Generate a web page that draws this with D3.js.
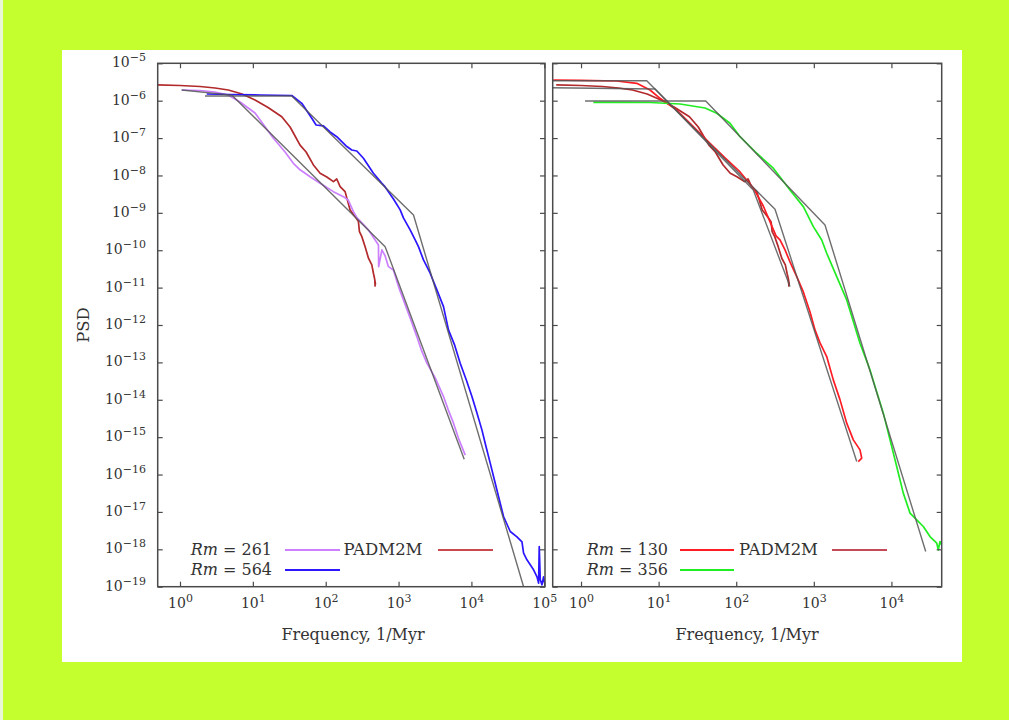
<!DOCTYPE html>
<html>
<head>
<meta charset="utf-8">
<script src="https://cdn.jsdelivr.net/npm/d3@7"></script>
<style>
  html, body { margin: 0; padding: 0; background: #c4ff2e; }
  svg { display: block; }
</style>
</head>
<body>
<svg id="chart" width="1009" height="720"></svg>
<script>
// ---- Spectra, stored as log10(frequency [1/Myr]) and log10(PSD) ----

// Rm = 261 dynamo run
const rm261LogF   = [0.023,0.275,0.481,0.659,0.824,1.030,1.282,1.442,1.556,1.648,1.786,1.923,2.106,2.243,2.308,2.380,2.431,2.587,2.679,2.724,2.727,2.771,2.816,2.861,2.930,2.999,3.067,3.159,3.251,3.310,3.389,3.503,3.617,3.681,3.754,3.832,3.915];
const rm261LogPsd = [-5.714,-5.727,-5.767,-5.848,-6.035,-6.329,-7.005,-7.372,-7.674,-7.848,-8.035,-8.209,-8.433,-8.567,-8.655,-8.968,-9.136,-9.457,-9.725,-9.858,-10.44,-9.992,-10.152,-10.439,-10.527,-10.973,-11.329,-11.810,-12.310,-12.658,-13.021,-13.414,-13.914,-14.262,-14.626,-15.08,-15.48];

// Rm = 564 dynamo run
const rm564LogF   = [0.367,0.687,1.099,1.534,1.672,1.809,1.868,1.969,2.060,2.152,2.221,2.280,2.358,2.427,2.518,2.655,2.771,2.816,2.930,3.022,3.067,3.159,3.228,3.273,3.342,3.434,3.526,3.617,3.685,3.770,3.846,3.930,4.007,4.075,4.144,4.200,4.258,4.315,4.372,4.441,4.533,4.625,4.694,4.716,4.762,4.853,4.900,4.922,4.931,4.945,4.968,4.990,5.014,5.030];
const rm564LogPsd = [-5.821,-5.834,-5.848,-5.861,-6.070,-6.471,-6.650,-6.676,-6.837,-6.963,-7.096,-7.211,-7.318,-7.345,-7.540,-7.941,-8.209,-8.307,-8.628,-8.922,-9.136,-9.457,-9.725,-9.904,-10.259,-10.615,-11.061,-11.508,-12.131,-12.540,-13.021,-13.470,-13.914,-14.350,-14.805,-15.250,-15.695,-16.140,-16.588,-17.123,-17.524,-17.666,-17.799,-18.102,-18.281,-18.548,-18.735,-18.904,-17.925,-18.815,-18.949,-18.735,-18.995,-19.300];

// Rm = 130 dynamo run
const rm130LogF   = [-0.357,-0.013,0.460,0.718,0.889,1.018,1.233,1.447,1.662,1.856,2.049,2.220,2.349,2.436,2.513,2.564,2.629,2.693,2.780,2.865,2.951,3.015,3.080,3.166,3.251,3.338,3.424,3.509,3.595,3.617,3.573];
const rm130LogPsd = [-5.447,-5.455,-5.473,-5.535,-5.714,-5.936,-6.249,-6.695,-7.139,-7.532,-7.906,-8.334,-8.816,-9.243,-9.618,-9.725,-9.992,-10.313,-10.706,-11.115,-11.650,-12.131,-12.479,-12.845,-13.468,-14.003,-14.626,-15.072,-15.340,-15.561,-15.652];

// Rm = 356 dynamo run
const rm356LogF   = [0.159,0.503,0.889,1.276,1.598,1.749,1.920,2.049,2.264,2.478,2.693,2.865,2.994,3.102,3.166,3.295,3.424,3.595,3.724,3.811,3.896,3.982,4.068,4.153,4.240,4.326,4.411,4.497,4.584,4.604,4.626,4.648];
const rm356LogPsd = [-6.043,-6.043,-6.048,-6.088,-6.195,-6.337,-6.604,-6.963,-7.406,-7.807,-8.388,-8.834,-9.369,-9.725,-10.080,-10.706,-11.329,-12.487,-13.201,-13.789,-14.358,-15.072,-15.786,-16.497,-17.032,-17.211,-17.390,-17.658,-17.834,-18.013,-17.791,-17.880];

// PADM2M palaeomagnetic model
const padm2mLogF   = [-0.320,0,0.275,0.481,0.663,0.852,1.030,1.209,1.397,1.511,1.648,1.731,1.831,1.923,2.015,2.106,2.152,2.198,2.266,2.335,2.404,2.449,2.463,2.496,2.541,2.587,2.633,2.655,2.670,2.683,2.674,2.679];
const padm2mLogPsd = [-5.575,-5.594,-5.620,-5.660,-5.714,-5.821,-5.981,-6.182,-6.428,-6.703,-7.190,-7.372,-7.719,-7.941,-8.040,-8.166,-8.094,-8.299,-8.433,-8.922,-9.102,-9.235,-9.503,-9.636,-9.904,-10.214,-10.393,-10.615,-10.75,-10.90,-10.82,-10.973];

// Broken power-law fits (corner points)
const fitRm261LogF   = [0.023, 0.710, 2.816, 3.901];
const fitRm261LogPsd = [-5.714, -5.850, -9.904, -15.589];
const fitRm564LogF   = [0.343, 1.534, 3.205, 4.716];
const fitRm564LogPsd = [-5.874, -5.874, -9.056, -19.000];
const fitRm130LogF   = [-0.380, 0.847, 2.500, 3.553];
const fitRm130LogPsd = [-5.465, -5.465, -8.904, -15.653];
const fitPadm2mLogF   = [-0.380, 0.954, 2.220, 2.693];
const fitPadm2mLogPsd = [-5.652, -5.689, -8.388, -10.973];
const fitRm356LogF   = [0.052, 1.607, 3.144, 4.442];
const fitRm356LogPsd = [-6.010, -6.010, -9.324, -18.060];

// Axis ticks (powers of ten) and legend labels
const xTickExpLeft  = [0, 1, 2, 3, 4, 5];
const xTickExpRight = [0, 1, 2, 3, 4];
const yTickExp = [-5, -6, -7, -8, -9, -10, -11, -12, -13, -14, -15, -16, -17, -18, -19];
const rmLeft  = [261, 564];
const rmRight = [130, 356];
const modelName = "PADM2M";
const xTitle = "Frequency, 1/Myr";
const yTitle = "PSD";

// ---- Drawing ----
const SERIF = "'DejaVu Serif', 'Liberation Serif', serif";
const INK = "#4a4a4a";
const FIT = "#555555";
const C = {
  violet: "#cc80ff",
  blue: "#2b16ff",
  padm: "#b22a2c",
  red: "#ff1c24",
  green: "#22ec22"
};

const svg = d3.select("#chart");
svg.append("rect").attr("width", 1009).attr("height", 720).attr("fill", "#c4ff2e");
svg.append("rect").attr("x", 0).attr("width", 3).attr("height", 720).attr("fill", "#eaf7d6");
svg.append("rect").attr("x", 62).attr("y", 50).attr("width", 900).attr("height", 612).attr("fill", "#ffffff");

const PLOT_TOP = 63.3, PLOT_BOTTOM = 586.7;
const y = d3.scaleLog().domain([1e-19, 1e-5]).range([PLOT_BOTTOM, PLOT_TOP]);

const minus = "\u2212";
function supLabel(textSel, fontSize, supSize, supDy) {
  textSel.each(function (d) {
    const e = Math.round(Math.log10(d));
    const t = d3.select(this);
    t.text(null);
    t.append("tspan").attr("font-size", fontSize).text("10");
    t.append("tspan").attr("font-size", supSize).attr("dy", supDy)
      .text(e < 0 ? minus + Math.abs(e) : String(e));
  });
}

function series(fx, fy) {
  return d3.zip(fx, fy).map(([a, b]) => [Math.pow(10, a), Math.pow(10, b)]);
}

function drawPanel(cfg, idx) {
  const x = d3.scaleLog()
    .domain([Math.pow(10, cfg.logMin), Math.pow(10, cfg.logMax)])
    .range([cfg.left, cfg.right]);
  const g = svg.append("g");
  const clipId = "clip" + idx;
  g.append("clipPath").attr("id", clipId).append("rect")
    .attr("x", cfg.left).attr("y", PLOT_TOP)
    .attr("width", cfg.right - cfg.left).attr("height", PLOT_BOTTOM - PLOT_TOP);

  const line = d3.line().x(d => x(d[0])).y(d => y(d[1]));
  const plot = g.append("g").attr("clip-path", `url(#${clipId})`);

  cfg.curves.forEach(c => {
    plot.append("path").datum(series(c.f, c.p))
      .attr("fill", "none").attr("stroke", c.color)
      .attr("stroke-width", 1.7).attr("stroke-linejoin", "round")
      .attr("d", line);
  });
  cfg.fits.forEach(c => {
    plot.append("path").datum(series(c.f, c.p))
      .attr("fill", "none").attr("stroke", FIT).attr("stroke-opacity", 0.85)
      .attr("stroke-width", 1.4).attr("stroke-linejoin", "round")
      .attr("d", line);
  });

  const xTicks = cfg.xExp.map(e => Math.pow(10, e));
  const yTicks = yTickExp.map(e => Math.pow(10, e));

  const styleAxis = sel => {
    sel.select(".domain").remove();
    sel.selectAll(".tick line").attr("stroke", INK).attr("stroke-width", 1.2);
    sel.attr("font-family", SERIF).attr("fill", "#333");
    sel.selectAll(".tick text").attr("fill", "#333");
  };

  // bottom axis with labels
  const gb = g.append("g").attr("transform", `translate(0,${PLOT_BOTTOM})`)
    .call(d3.axisBottom(x).tickValues(xTicks).tickSizeInner(-5).tickSizeOuter(0)
      .tickPadding(14).tickFormat(() => ""));
  styleAxis(gb);
  supLabel(gb.selectAll(".tick text"), 14, 11, -6);

  // top axis, ticks only
  const gt = g.append("g").attr("transform", `translate(0,${PLOT_TOP})`)
    .call(d3.axisTop(x).tickValues(xTicks).tickSizeInner(-5).tickSizeOuter(0).tickFormat(() => ""));
  styleAxis(gt);

  // left axis
  const gl = g.append("g").attr("transform", `translate(${cfg.left},0)`)
    .call(d3.axisLeft(y).tickValues(yTicks).tickSizeInner(-5).tickSizeOuter(0)
      .tickPadding(cfg.left - 146).tickFormat(() => ""));
  styleAxis(gl);
  if (cfg.yLabels) {
    supLabel(gl.selectAll(".tick text").attr("dy", "0.36em"), 14, 11, -6);
  } else {
    gl.selectAll(".tick text").remove();
  }

  // right axis, ticks only
  const gr = g.append("g").attr("transform", `translate(${cfg.right},0)`)
    .call(d3.axisRight(y).tickValues(yTicks).tickSizeInner(-5).tickSizeOuter(0).tickFormat(() => ""));
  styleAxis(gr);

  // frame
  g.append("rect").attr("x", cfg.left).attr("y", PLOT_TOP)
    .attr("width", cfg.right - cfg.left).attr("height", PLOT_BOTTOM - PLOT_TOP)
    .attr("fill", "none").attr("stroke", INK).attr("stroke-width", 1.5);

  // x title
  g.append("text").attr("x", cfg.titleX).attr("y", 640)
    .attr("text-anchor", "middle").attr("font-family", SERIF).attr("font-size", 16)
    .attr("fill", "#333").text(xTitle);

  // legend
  const lg = g.append("g").attr("font-family", SERIF).attr("font-size", 16).attr("fill", "#333");
  cfg.legend.forEach((item, i) => {
    const yy = 555 + i * 20;
    const t = lg.append("text").attr("x", cfg.legTextEnd).attr("y", yy).attr("text-anchor", "end");
    t.append("tspan").attr("font-style", "italic").text("Rm");
    t.append("tspan").text(" = " + item.rm);
    lg.append("line").attr("x1", cfg.legLine[0]).attr("x2", cfg.legLine[1])
      .attr("y1", yy - 5).attr("y2", yy - 5)
      .attr("stroke", item.color).attr("stroke-width", 1.8);
  });
  lg.append("text").attr("x", cfg.legModelX).attr("y", 555).attr("font-size", 16.5).text(modelName);
  lg.append("line").attr("x1", cfg.legModelLine[0]).attr("x2", cfg.legModelLine[1])
    .attr("y1", 550).attr("y2", 550).attr("stroke", cfg.modelLegendColor).attr("stroke-width", 1.8);
}

const panels = [
  {
    left: 157.7, right: 545, logMin: -0.306, logMax: 5.01, xExp: xTickExpLeft, yLabels: true,
    titleX: 353,
    curves: [
      { f: padm2mLogF, p: padm2mLogPsd, color: C.padm },
      { f: rm261LogF, p: rm261LogPsd, color: C.violet },
      { f: rm564LogF, p: rm564LogPsd, color: C.blue }
    ],
    fits: [
      { f: fitRm261LogF, p: fitRm261LogPsd },
      { f: fitRm564LogF, p: fitRm564LogPsd }
    ],
    legend: [{ rm: rmLeft[0], color: C.violet }, { rm: rmLeft[1], color: C.blue }],
    legTextEnd: 272, legLine: [285, 340], legModelX: 343.5, legModelLine: [438, 493],
    modelLegendColor: "#c84a4e"
  },
  {
    left: 552.7, right: 941.7, logMin: -0.365, logMax: 4.648, xExp: xTickExpRight, yLabels: false,
    titleX: 747,
    curves: [
      { f: padm2mLogF, p: padm2mLogPsd, color: C.padm },
      { f: rm130LogF, p: rm130LogPsd, color: C.red },
      { f: rm356LogF, p: rm356LogPsd, color: C.green }
    ],
    fits: [
      { f: fitRm130LogF, p: fitRm130LogPsd },
      { f: fitPadm2mLogF, p: fitPadm2mLogPsd },
      { f: fitRm356LogF, p: fitRm356LogPsd }
    ],
    legend: [{ rm: rmRight[0], color: C.red }, { rm: rmRight[1], color: C.green }],
    legTextEnd: 668, legLine: [680, 734], legModelX: 739, legModelLine: [832, 887],
    modelLegendColor: "#c44a58"
  }
];

panels.forEach(drawPanel);

// y-axis title
svg.append("text").attr("transform", "translate(89,325) rotate(-90)")
  .attr("text-anchor", "middle").attr("font-family", SERIF).attr("font-size", 16.5)
  .attr("fill", "#333").text(yTitle);
</script>
</body>
</html>
